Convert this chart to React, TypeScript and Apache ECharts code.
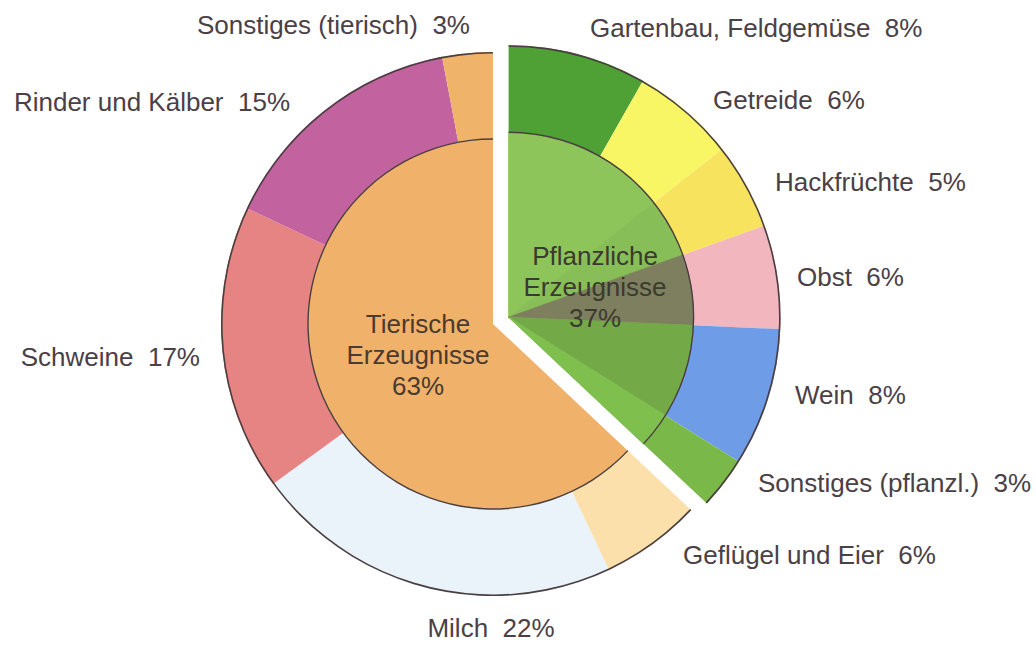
import React, { useEffect, useRef } from "react";
import * as echarts from "echarts";

// ---------- data ----------
const groupNames = ["Pflanzliche\nErzeugnisse", "Tierische\nErzeugnisse"];
const groupValues = [37, 63];

const plantNames = ["Gartenbau, Feldgemüse", "Getreide", "Hackfrüchte", "Obst", "Wein", "Sonstiges (pflanzl.)"];
const plantValues = [8, 6, 5, 6, 8, 3];

const animalNames = ["Geflügel und Eier", "Milch", "Schweine", "Rinder und Kälber", "Sonstiges (tierisch)"];
const animalValues = [6, 22, 17, 15, 3];

// ---------- styles / layout ----------
const groupColors = ["rgba(141,197,90,0.5)", "#F0B26B"];
const plantColors = ["#4FA035", "#F9F665", "#F8E35E", "#F2B6BF", "#6F9CE6", "#7BB84A"];
const plantShadeColors = ["#8DC55A", "#8DC55A", "#83B654", "#6F3862", "#5B8C36", "#70B842"];
const animalColors = ["#FBE0AC", "#E9F3F9", "#E68383", "#C2639F", "#F0B36A"];
const outlineColor = "#4A3F40";
const labelColor = "#4B4046";

const plantLabelPos: [number, number, string][] = [
  [590, 28, "left"], [713, 100, "left"], [775, 182, "left"],
  [797, 277, "left"], [795, 395, "left"], [758, 483, "left"],
];
const animalLabelPos: [number, number, string][] = [
  [683, 555, "left"], [491, 628, "center"], [200, 357, "right"],
  [290, 102, "right"], [470, 25, "right"],
];
const groupLabelPos: [number, number][] = [[595, 287], [418, 355]];

const CENTER = [493, 324];
const R_OUT = 272;
const R_IN = 185;
const EXPLODE = 17;
const FONT = "'Liberation Sans', Arial, Helvetica, sans-serif";

const sum = (a: number[]) => a.reduce((s, v) => s + v, 0);

export default function App() {
  const ref = useRef<HTMLDivElement>(null);
  useEffect(() => {
    document.body.style.margin = "0";
    if (!ref.current) return;
    const chart = echarts.init(ref.current, undefined, { renderer: "svg" });

    const total = sum(groupValues);
    const half = (groupValues[0] / total) * Math.PI;
    const C1 = [CENTER[0] + EXPLODE * Math.sin(half), CENTER[1] - EXPLODE * Math.cos(half)];
    const plantFiller = (sum(plantValues) * groupValues[1]) / groupValues[0];
    const animalFiller = (sum(animalValues) * groupValues[0]) / groupValues[1];

    const hidden = (v: number) => ({
      value: v,
      name: "",
      itemStyle: { color: "rgba(0,0,0,0)" },
      label: { show: false },
    });

    const base: any = {
      type: "pie",
      startAngle: 90,
      clockwise: true,
      silent: true,
      avoidLabelOverlap: false,
      labelLine: { show: false },
      emphasis: { disabled: true },
      animation: false,
    };

    const outerLabel = {
      show: true,
      position: "outside",
      formatter: "{b}  {c}%",
      color: labelColor,
      fontSize: 26,
      fontFamily: FONT,
    };

    const innerLabel = (color: string) => ({
      show: true,
      position: "inside",
      formatter: "{b}\n{c}%",
      color,
      fontSize: 26,
      lineHeight: 31,
      fontFamily: FONT,
      align: "center",
    });

    const arcs = (center: number[], pre: number, val: number, post: number) => [
      {
        ...base,
        center,
        radius: [R_OUT - 1.6, R_OUT],
        data: [hidden(pre), { value: val, name: "", itemStyle: { color: outlineColor }, label: { show: false } }, hidden(post)],
      },
      {
        ...base,
        center,
        radius: [R_IN - 0.7, R_IN + 0.7],
        data: [hidden(pre), { value: val, name: "", itemStyle: { color: outlineColor }, label: { show: false } }, hidden(post)],
      },
    ];

    const series: any[] = [
      // ----- animal group -----
      {
        ...base,
        center: CENTER,
        radius: [0, R_IN],
        data: [
          hidden(groupValues[0]),
          {
            value: groupValues[1],
            name: groupNames[1],
            itemStyle: { color: groupColors[1] },
            label: innerLabel("#4A3A30"),
          },
        ],
        labelLayout: (p: any) =>
          p.dataIndex === 1
            ? { x: groupLabelPos[1][0], y: groupLabelPos[1][1], align: "center", verticalAlign: "middle" }
            : {},
      },
      {
        ...base,
        center: CENTER,
        radius: [R_IN, R_OUT],
        data: [
          hidden(animalFiller),
          ...animalValues.map((v, i) => ({
            value: v,
            name: animalNames[i],
            itemStyle: { color: animalColors[i] },
            label: outerLabel,
          })),
        ],
        labelLayout: (p: any) => {
          const pos = animalLabelPos[p.dataIndex - 1];
          return pos ? { x: pos[0], y: pos[1], align: pos[2], verticalAlign: "middle" } : {};
        },
      },
      ...arcs(CENTER, groupValues[0], groupValues[1], 0),
      // ----- plant group (exploded) -----
      {
        ...base,
        center: C1,
        radius: [R_IN, R_OUT],
        data: [
          ...plantValues.map((v, i) => ({
            value: v,
            name: plantNames[i],
            itemStyle: { color: plantColors[i] },
            label: outerLabel,
          })),
          hidden(plantFiller),
        ],
        labelLayout: (p: any) => {
          const pos = plantLabelPos[p.dataIndex];
          return pos ? { x: pos[0], y: pos[1], align: pos[2], verticalAlign: "middle" } : {};
        },
      },
      {
        ...base,
        center: C1,
        radius: [0, R_IN],
        data: [
          ...plantValues.map((v, i) => ({
            value: v,
            name: plantNames[i],
            itemStyle: { color: plantShadeColors[i], borderColor: plantShadeColors[i], borderWidth: 0.8 },
            label: { show: false },
          })),
          hidden(plantFiller),
        ],
      },
      {
        ...base,
        center: C1,
        radius: [0, R_IN],
        data: [
          {
            value: groupValues[0],
            name: groupNames[0],
            itemStyle: { color: groupColors[0] },
            label: innerLabel("#3A3A2E"),
          },
          hidden(groupValues[1]),
        ],
        labelLayout: (p: any) =>
          p.dataIndex === 0
            ? { x: groupLabelPos[0][0], y: groupLabelPos[0][1], align: "center", verticalAlign: "middle" }
            : {},
      },
      ...arcs(C1, 0, groupValues[0], groupValues[1]),
    ];

    chart.setOption({
      animation: false,
      backgroundColor: "#ffffff",
      series,
    });

    return () => chart.dispose();
  }, []);

  return <div ref={ref} style={{ width: 1036, height: 645 }} />;
}
